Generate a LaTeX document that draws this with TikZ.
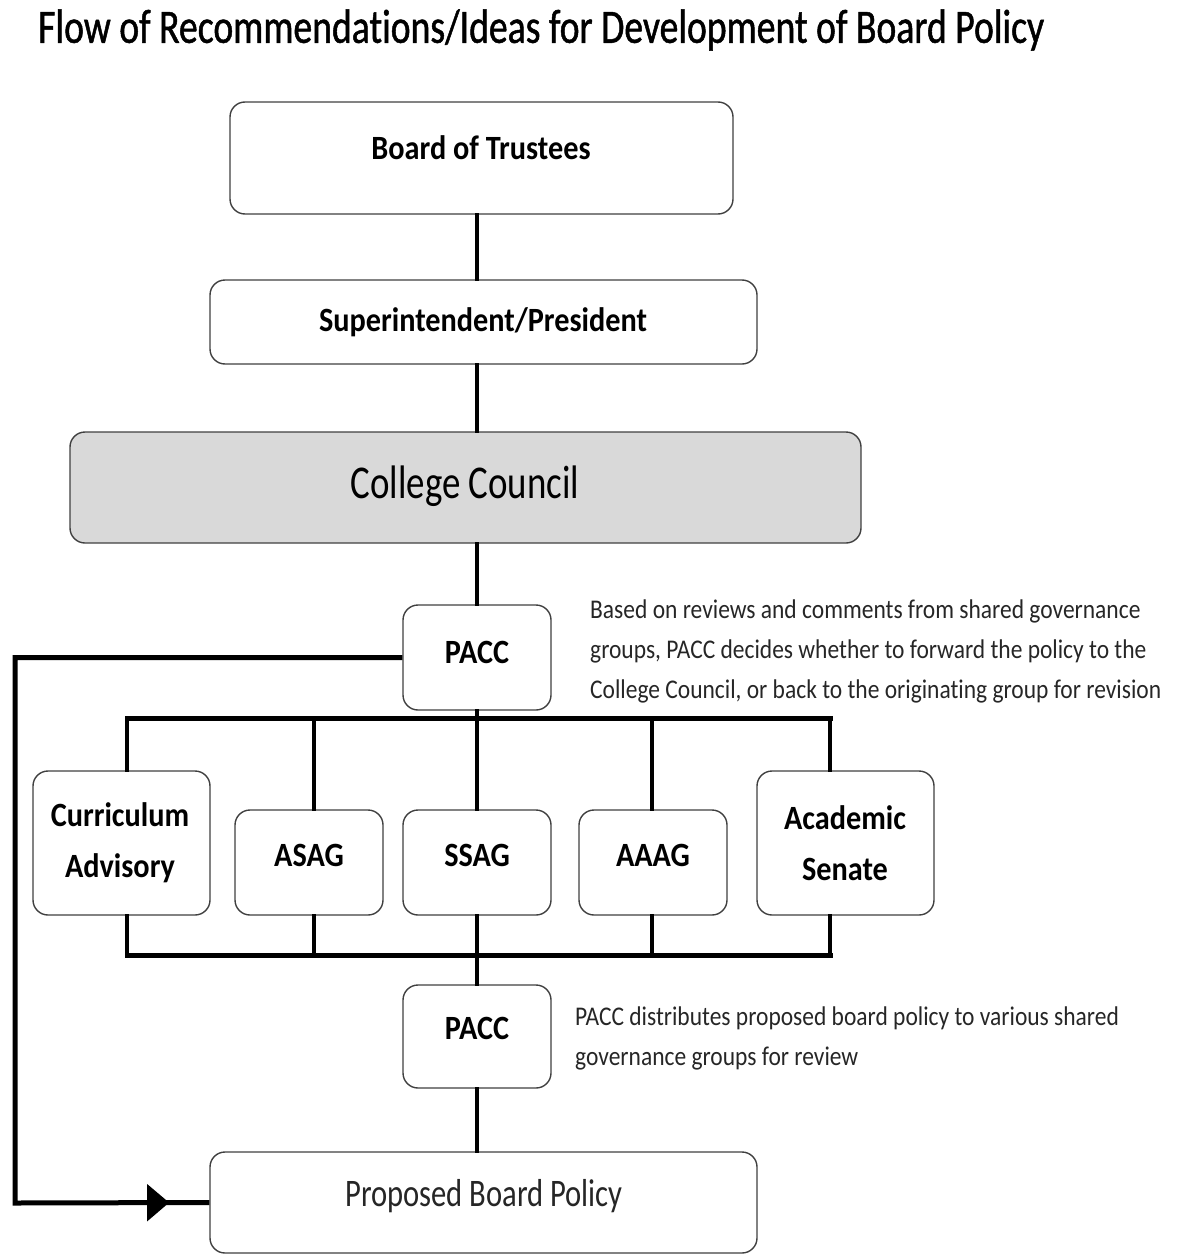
\documentclass[tikz,border=0pt]{standalone}
\usepackage{fontspec}
\setmainfont[Ligatures=NoCommon]{Carlito}
\newfontfamily\fT[FakeStretch=0.785,FakeBold=1,Ligatures=NoCommon]{Carlito}
\newfontfamily\fA[FakeStretch=0.785,Ligatures=NoCommon]{Carlito}
\newfontfamily\fB[FakeStretch=0.89,Ligatures=NoCommon]{Carlito}
\newfontfamily\fN[FakeStretch=0.87,Ligatures=NoCommon]{Carlito}
\usetikzlibrary{arrows.meta,decorations.markings}
\tikzset{
  box/.style={draw=black!75, line width=1.4pt, rounded corners=15pt, fill=white, inner sep=0pt},
  conn/.style={line width=4pt, line cap=rect},
  bus/.style={line width=5pt, line cap=rect},
  lbl/.style={font=\fB\bfseries\fontsize{34}{40}\selectfont, align=center, inner sep=0pt},
  note/.style={font=\fN\fontsize{27}{40}\selectfont, align=left, anchor=north west, inner sep=0pt, text=black!85},
}
\begin{document}
\begin{tikzpicture}[x=1pt,y=-1pt]
\useasboundingbox (0,0) rectangle (1180,1255);
\node[anchor=west, inner sep=0pt, font=\fT\fontsize{48}{56}\selectfont] (title) at (38,30) {Flow of Recommendations/Ideas for Development of Board Policy};

% boxes
\node[box, minimum width=503pt, minimum height=112pt] (bot) at (481.5,158) {};
\node[box, minimum width=547pt, minimum height=84pt] (sup) at (483.5,322) {};
\node[box, fill=black!15, minimum width=791pt, minimum height=111pt] (cc) at (465.5,487.5) {};
\node[box, minimum width=148pt, minimum height=105pt] (pacc1) at (477,657.5) {};
\node[box, minimum width=177pt, minimum height=144pt] (cur) at (121.5,843) {};
\node[box, minimum width=148pt, minimum height=105pt] (asag) at (309,862.5) {};
\node[box, minimum width=148pt, minimum height=105pt] (ssag) at (477,862.5) {};
\node[box, minimum width=148pt, minimum height=105pt] (aaag) at (653,862.5) {};
\node[box, minimum width=177pt, minimum height=144pt] (sen) at (845.5,843) {};
\node[box, minimum width=148pt, minimum height=103pt] (pacc2) at (477,1036.5) {};
\node[box, minimum width=547pt, minimum height=101pt] (prop) at (483.5,1202.5) {};

% labels
\node[lbl] (tbot) at (481,148) {Board of Trustees};
\node[lbl] (tsup) at (483,322) {Superintendent/President};
\node[lbl, font=\fA\fontsize{47}{54}\selectfont] (tcc) at (465,486) {College Council};
\node[lbl] (tp1) at (477,652) {PACC};
\node[lbl, font=\fB\bfseries\fontsize{34}{51}\selectfont] (tcur) at (120,843) {Curriculum\\Advisory};
\node[lbl] (tasag) at (309,855) {ASAG};
\node[lbl] (tssag) at (477,855) {SSAG};
\node[lbl] (taaag) at (653,855) {AAAG};
\node[lbl, font=\fB\bfseries\fontsize{34}{51}\selectfont] (tsen) at (845,843) {Academic\\Senate};
\node[lbl] (tp2) at (477,1028) {PACC};
\node[lbl, font=\fA\fontsize{39}{44}\selectfont, text=black!85] (tprop) at (484,1196) {Proposed Board Policy};

% notes
\node[note] (n1) at (590,600) {Based on reviews and comments from shared governance\\groups, PACC decides whether to forward the policy to the\\College Council, or back to the originating group for revision};
\node[note] (n2) at (575,1007) {PACC distributes proposed board policy to various shared\\governance groups for review};

% bus coordinates
\coordinate (tl) at (127,718);
\coordinate (tr) at (830,718);
\coordinate (bl) at (127,955);
\coordinate (br) at (830,955);
\coordinate (ta) at (314,718);
\coordinate (tm) at (477,718);
\coordinate (tg) at (652,718);
\coordinate (ba) at (314,955);
\coordinate (bm) at (477,955);
\coordinate (bg) at (652,955);
\coordinate (lc) at (15,1203);

% vertical connectors (spine at x = 477)
\draw[conn] (tm |- bot.south) -- (tm |- sup.north);
\draw[conn] (tm |- sup.south) -- (tm |- cc.north);
\draw[conn] (tm |- cc.south) -- (pacc1.north);
\draw[conn] (pacc1.south) -- (tm);
\draw[conn] (tm) -- (ssag.north);
\draw[conn] (ssag.south) -- (bm);
\draw[conn] (bm) -- (pacc2.north);
\draw[conn] (pacc2.south) -- (tm |- prop.north);

% buses
\draw[bus] (tl) -- (tr);
\draw[bus] (bl) -- (br);
\draw[conn] (tl) -- (tl |- cur.north);
\draw[conn] (bl) -- (bl |- cur.south);
\draw[conn] (tr) -- (tr |- sen.north);
\draw[conn] (br) -- (br |- sen.south);
\draw[conn] (ta) -- (ta |- asag.north);
\draw[conn] (ba) -- (ba |- asag.south);
\draw[conn] (tg) -- (tg |- aaag.north);
\draw[conn] (bg) -- (bg |- aaag.south);

% feedback loop
\draw[line width=5pt, line join=miter,
  postaction={decorate, decoration={markings,
    mark=at position 1087pt with {\arrow{Triangle[length=22pt,width=36pt]}}}}]
  (pacc1.west) -| (lc) -- (prop.west);
\end{tikzpicture}
\end{document}
